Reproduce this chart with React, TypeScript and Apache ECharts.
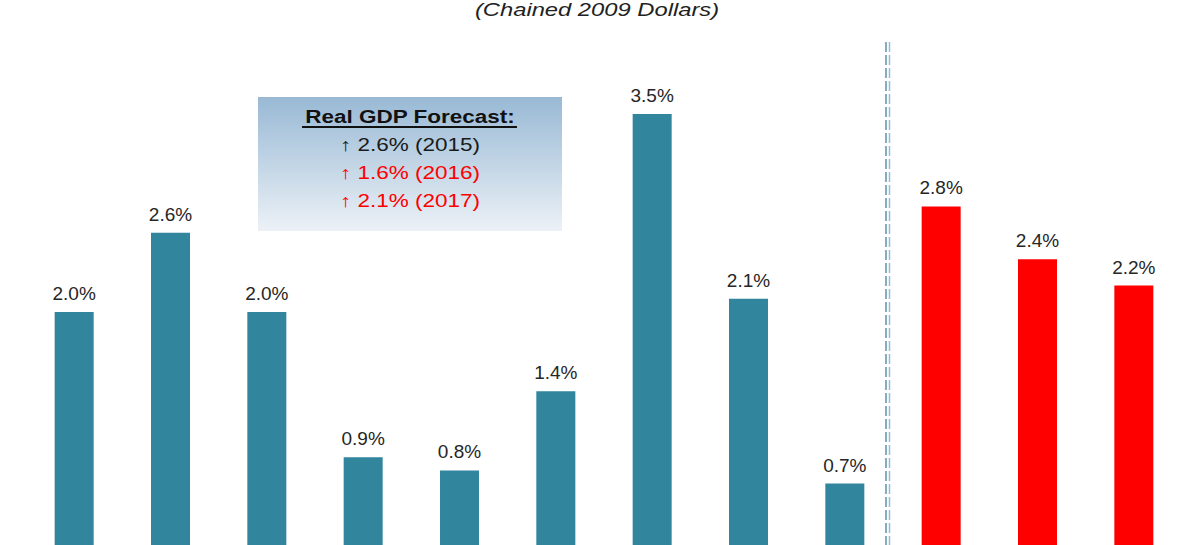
import React, { useEffect, useRef } from "react";
import * as echarts from "echarts";

const categories = ["P1", "P2", "P3", "P4", "P5", "P6", "P7", "P8", "P9", "F1", "F2", "F3"];
const actualValues = [2.0, 2.6, 2.0, 0.9, 0.8, 1.4, 3.5, 2.1, 0.7];
const forecastValues = [2.8, 2.4, 2.2];
const subtitle = "(Chained 2009 Dollars)";
const boxTitle = "Real GDP Forecast:";
const boxLines = ["↑ 2.6% (2015)", "↑ 1.6% (2016)", "↑ 2.1% (2017)"];
const boxLineColors = ["#1a1a1a", "#ff0000", "#ff0000"];

const TEAL = "#31859C";
const RED = "#FF0000";

export default function App() {
  const ref = useRef<HTMLDivElement>(null);
  useEffect(() => {
    if (!ref.current) return;
    const chart = echarts.init(ref.current, undefined, { renderer: "svg" });
    const data = [
      ...actualValues.map((v) => ({ value: v, itemStyle: { color: TEAL } })),
      ...forecastValues.map((v) => ({ value: v, itemStyle: { color: RED } })),
    ];
    const font = "Arial, 'Liberation Sans', sans-serif";
    const graphic: any[] = [
      {
        type: "text",
        x: 597,
        y: 0,
        scaleX: 1.25,
        style: {
          text: subtitle,
          font: `italic 19px ${font}`,
          fill: "#222",
          align: "center",
          verticalAlign: "top",
        },
      },
      {
        type: "rect",
        shape: { x: 258, y: 97, width: 304, height: 134 },
        style: {
          fill: new echarts.graphic.LinearGradient(0, 0, 0, 1, [
            { offset: 0, color: "#98B9D5" },
            { offset: 1, color: "#ECF1F6" },
          ]),
        },
      },
      {
        type: "text",
        x: 410,
        y: 117,
        scaleX: 1.25,
        style: {
          text: boxTitle,
          font: `bold 18px ${font}`,
          fill: "#111",
          align: "center",
          verticalAlign: "middle",
        },
      },
      {
        type: "line",
        shape: { x1: 302, y1: 127, x2: 517, y2: 127 },
        style: { stroke: "#111", lineWidth: 2 },
      },
      ...boxLines.map((t, i) => ({
        type: "text",
        x: 410,
        y: 145 + i * 28,
        scaleX: 1.25,
        style: {
          text: t,
          font: `18px ${font}`,
          fill: boxLineColors[i],
          align: "center",
          verticalAlign: "middle",
        },
      })),
      {
        type: "line",
        shape: { x1: 886, y1: 42, x2: 886, y2: 600 },
        style: { stroke: "#5E92AC", lineWidth: 1.5, lineDash: [10, 3] },
      },
      {
        type: "line",
        shape: { x1: 889.5, y1: 42, x2: 889.5, y2: 600 },
        style: { stroke: "#98BBD0", lineWidth: 1.5, lineDash: [10, 3] },
      },
    ];
    chart.setOption({
      animation: false,
      backgroundColor: "#ffffff",
      grid: { left: 26, right: 18, top: 48, bottom: 24 },
      xAxis: {
        type: "category",
        data: categories,
        show: false,
      },
      yAxis: {
        type: "value",
        min: 0,
        max: 4,
        show: false,
        splitLine: { show: false },
      },
      series: [
        {
          type: "bar",
          data,
          barWidth: 39,
          label: {
            show: true,
            position: "top",
            distance: 9,
            formatter: (p: any) => `${Number(p.value).toFixed(1)}%`,
            fontSize: 19,
            fontFamily: font,
            color: "#262626",
          },
        },
      ],
      graphic,
    });
    return () => chart.dispose();
  }, []);
  return (
    <div style={{ position: "absolute", left: 0, top: 0, width: 1200, height: 545, overflow: "hidden", background: "#fff" }}>
      <div ref={ref} style={{ width: 1200, height: 600 }} />
    </div>
  );
}
